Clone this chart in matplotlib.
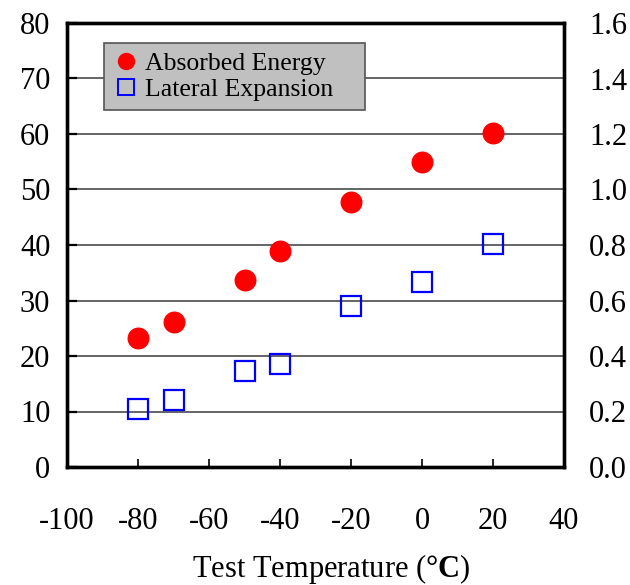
import numpy as np
import matplotlib.pyplot as plt
from matplotlib.lines import Line2D

plt.rcParams['font.family'] = ['Liberation Serif', 'DejaVu Serif']
plt.rcParams['mathtext.fontset'] = 'custom'
plt.rcParams['mathtext.rm'] = 'Liberation Serif'
plt.rcParams['mathtext.bf'] = 'Liberation Serif:bold'

# data
temp = [-80, -70, -50, -40, -20, 0, 20]
energy = [23.2, 26.1, 33.7, 39.0, 47.8, 55.0, 60.1]
lat_exp = [0.21, 0.24, 0.345, 0.37, 0.58, 0.665, 0.805]

x_ticks = [-100, -80, -60, -40, -20, 0, 20, 40]
y_ticks = [0, 10, 20, 30, 40, 50, 60, 70, 80]
y2_ticks = [0.0, 0.2, 0.4, 0.6, 0.8, 1.0, 1.2, 1.4, 1.6]

fig = plt.figure(figsize=(6.3, 5.85), dpi=100)
ax = fig.add_axes([67 / 630, 118 / 585, 497 / 630, 444 / 585])
ax2 = ax.twinx()

for yv in y_ticks[1:-1]:
    ax.axhline(yv, color='#3a3a3a', linewidth=1.1, zorder=1)

ax.plot(temp, energy, linestyle='none', marker='o', markersize=14.8,
        markerfacecolor='red', markeredgecolor='red', zorder=3)
ax2.plot(temp, lat_exp, linestyle='none', marker='s', markersize=13.8,
         markerfacecolor='none', markeredgecolor='blue', markeredgewidth=1.6, zorder=3)

ax.set_xlim(-100, 40)
ax.set_ylim(0, 80)
ax2.set_ylim(0, 1.6)
ax.set_xticks(x_ticks)
ax.set_xticklabels([str(v) for v in x_ticks])
ax.set_yticks(y_ticks)
ax2.set_yticks(y2_ticks)
ax2.set_yticklabels(['%.1f' % v for v in y2_ticks])

ax.tick_params(axis='x', direction='in', length=6, width=1.2, labelsize=22, pad=29)
ax.tick_params(axis='y', direction='in', length=7, width=1.6, labelsize=22, pad=12)
ax2.tick_params(axis='y', direction='in', length=0, labelsize=22, pad=18)

for a in (ax, ax2):
    for s in a.spines.values():
        s.set_linewidth(2.4)
        s.set_color('black')

ax.set_xlabel(r'Test Temperature ($\mathbf{°C}$)', fontsize=22, labelpad=11)
ax.xaxis.label.set_x(0.531)

handles = [
    Line2D([], [], linestyle='none', marker='o', markersize=11.5,
           markerfacecolor='red', markeredgecolor='red'),
    Line2D([], [], linestyle='none', marker='s', markersize=11,
           markerfacecolor='none', markeredgecolor='blue', markeredgewidth=1.4),
]
leg = ax2.legend(handles, ['Absorbed Energy', 'Lateral Expansion'],
                 loc='upper left', mode='expand',
                 bbox_to_anchor=(37 / 497, 1 - 90 / 444, 261 / 497, 70 / 444),
                 fontsize=18.5, frameon=True, fancybox=False, framealpha=1,
                 handlelength=1.0, handletextpad=0.25, borderpad=0.35,
                 labelspacing=0.1, borderaxespad=0)
leg.get_frame().set_facecolor('#c0c0c0')
leg.get_frame().set_edgecolor('#555555')
leg.get_frame().set_linewidth(1.2)

fig.savefig('out.png', dpi=100)
